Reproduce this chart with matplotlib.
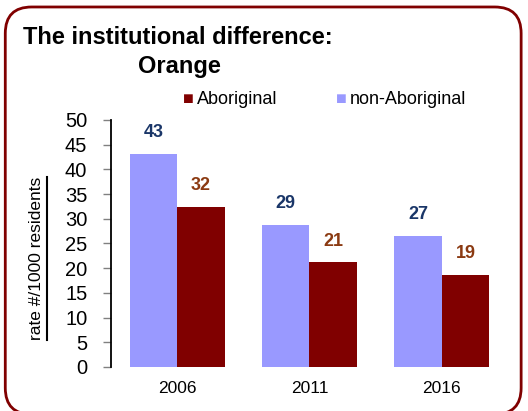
import matplotlib
matplotlib.use("Agg")
import matplotlib.pyplot as plt
import numpy as np
from matplotlib.patches import FancyBboxPatch
from matplotlib.lines import Line2D

plt.rcParams['font.family'] = ['Liberation Sans', 'DejaVu Sans']

years = ["2006", "2011", "2016"]
aboriginal = [32.4, 21.2, 18.6]
non_aboriginal = [43.1, 28.7, 26.5]
abo_labels = ["32", "21", "19"]
non_labels = ["43", "29", "27"]
yticks = [0, 5, 10, 15, 20, 25, 30, 35, 40, 45, 50]

BLUE = "#9999ff"
RED = "#800000"

fig = plt.figure(figsize=(5.28, 4.11), dpi=100)

# rounded frame
frame = FancyBboxPatch((0.010, -0.008), 0.977, 0.991, boxstyle="round,pad=0,rounding_size=0.05",
                       transform=fig.transFigure, facecolor="none", edgecolor=RED, lw=2,
                       mutation_aspect=528/411)
fig.add_artist(frame)

ax = fig.add_axes([0.2102, 0.1071, 0.7519, 0.601])
x = np.arange(len(years))
w = 0.36
ax.bar(x - w/2, non_aboriginal, w, color=BLUE, label="non-Aboriginal")
ax.bar(x + w/2, aboriginal, w, color=RED, label="Aboriginal")

for i in range(len(years)):
    ax.text(x[i] - w/2, non_aboriginal[i] + 4.3, non_labels[i], ha="center", va="center",
            fontsize=13, fontweight="bold", color="#1a3668")
    ax.text(x[i] + w/2, aboriginal[i] + 4.3, abo_labels[i], ha="center", va="center",
            fontsize=13, fontweight="bold", color="#8b3a12")

ax.set_xlim(-0.5, 2.5)
ax.set_ylim(0, 50)
ax.set_yticks(yticks)
ax.set_xticks(x)
ax.set_xticklabels(years, fontsize=12.5)
ax.tick_params(axis="y", labelsize=14.5, length=6, width=1, color="#808080", pad=11)
ax.tick_params(axis="x", length=0, pad=10)
for s in ["top", "right", "bottom"]:
    ax.spines[s].set_visible(False)
ax.spines["left"].set_linewidth(1.3)

# y label with underline
fig.text(0.070, 0.372, "rate #/1000 residents", rotation=90, ha="center", va="center", fontsize=12.5)
fig.add_artist(Line2D([0.089, 0.089], [0.173, 0.570], transform=fig.transFigure, color="black", lw=1.5))

# title
fig.text(0.044, 0.908, "The institutional difference:", fontsize=17, fontweight="bold", va="center")
fig.text(0.262, 0.837, "Orange", fontsize=17, fontweight="bold", va="center")

# legend
fig.text(0.346, 0.757, "\u25A0", color=RED, fontsize=13, va="center")
fig.text(0.373, 0.757, "Aboriginal", fontsize=13, va="center")
fig.text(0.637, 0.757, "\u25A0", color=BLUE, fontsize=13, va="center")
fig.text(0.663, 0.757, "non-Aboriginal", fontsize=13, va="center")

fig.savefig("out.png", dpi=100)
